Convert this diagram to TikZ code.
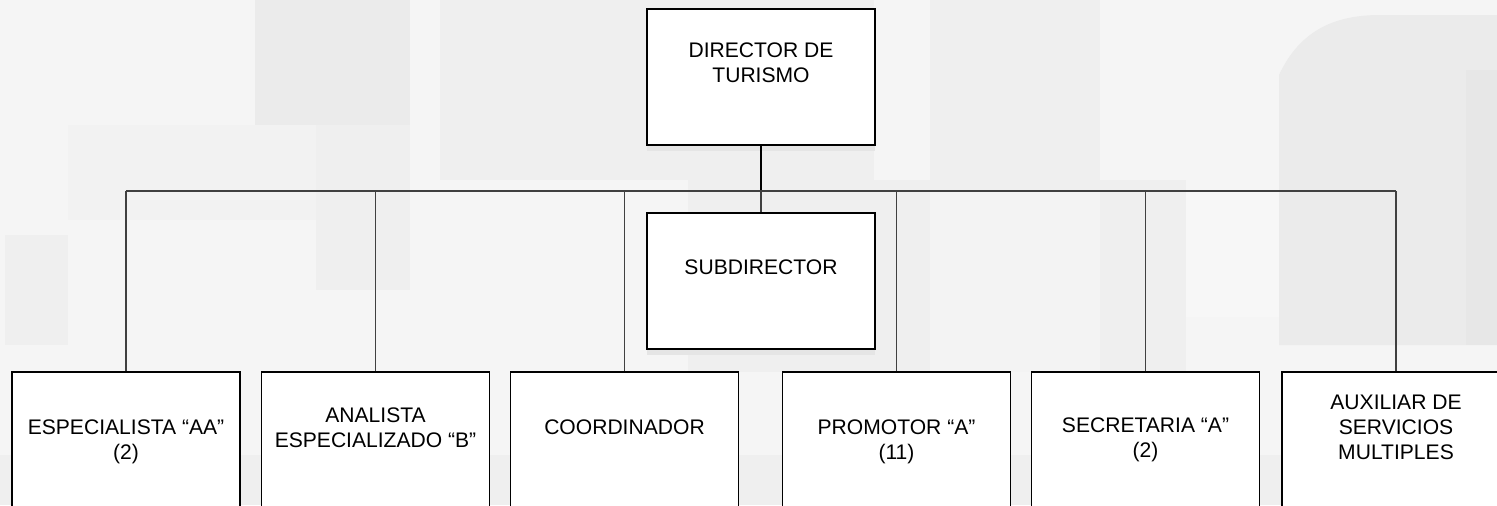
\documentclass[tikz,border=0pt]{standalone}
\usepackage{fontspec}
\setmainfont{Liberation Sans}
\usetikzlibrary{shadows}

\definecolor{fondo}{HTML}{F5F5F5}
\definecolor{fondoclaro}{HTML}{F7F7F7}
\definecolor{fondomedio}{HTML}{EFEFEF}
\definecolor{fondoosc}{HTML}{EBEBEB}
\definecolor{fondodeep}{HTML}{E7E7E7}

\tikzset{
  puesto/.style={draw=black, line width=0.8pt, fill=white, minimum width=4.56cm, minimum height=2.72cm, inner sep=0pt},
  rotulo/.style={font=\fontsize{12}{14.2}\selectfont, align=center, yshift=0.28cm},
  sombra/.style={drop shadow={shadow xshift=0cm, shadow yshift=-0.12cm, fill=black!10, opacity=1}},
  linea/.style={draw=black!75, line width=0.6pt}
}

\begin{document}
\begin{tikzpicture}[x=0.02cm, y=-0.02cm]
\useasboundingbox (0,0) rectangle (1497,505);

% Fondo
\fill[fondo] (0,0) rectangle (1497,505);
\fill[fondoosc] (255,0) rectangle (410,125);
\fill[fondomedio] (316,125) rectangle (410,290);
\fill[fondomedio!50!fondo] (68,125) rectangle (316,220);
\fill[fondomedio] (5,235) rectangle (68,345);
\fill[fondomedio] (440,0) rectangle (874,180);
\fill[fondomedio] (930,0) rectangle (1100,180);
\fill[fondomedio] (688,180) rectangle (1186,372);
\fill[fondomedio!40!fondo] (930,190) rectangle (1100,372);
\fill[fondoclaro] (1186,190) rectangle (1279,317);
\fill[fondoosc] (1279,345) -- (1279,75) .. controls (1300,30) and (1335,15) .. (1380,15) -- (1497,15) -- (1497,345) -- cycle;
\fill[fondodeep] (1466,70) rectangle (1497,345);
\fill[fondomedio] (0,455) rectangle (1497,505);

\coordinate (bus) at (0,191);

% Direccion
\node[puesto, sombra, label={[rotulo, name=dirtxt]center:DIRECTOR DE\\TURISMO}] (dir) at (761,77) {};
\node[puesto, sombra, label={[rotulo, name=subtxt]center:SUBDIRECTOR}] (sub) at (761,281) {};

\draw[black, line width=1.2pt] (dir.south) -- (dir.south |- bus);
\draw[linea] (sub.north) -- (sub.north |- bus);

% Puestos
\foreach \x/\n/\s/\t in {126/esp/-0.04/{ESPECIALISTA “AA”\\(2)},
                         375.5/ana/0.24/{ANALISTA\\ESPECIALIZADO “B”},
                         624.5/coo/0.26/{COORDINADOR},
                         896.5/pro/-0.04/{PROMOTOR “A”\\(11)},
                         1145.5/sec/0/{SECRETARIA “A”\\(2)},
                         1396/aux/0.26/{AUXILIAR DE\\SERVICIOS\\MULTIPLES}}{
  \node[puesto, label={[rotulo, yshift=\s cm-0.28cm, name=\n txt]center:\t}] (\n) at (\x,440) {};
  \draw[linea] (\n.north) -- (\n.north |- bus);
}

\draw[linea, line width=0.7pt] (esp.north |- bus) -- (aux.north |- bus);
\end{tikzpicture}
\end{document}
